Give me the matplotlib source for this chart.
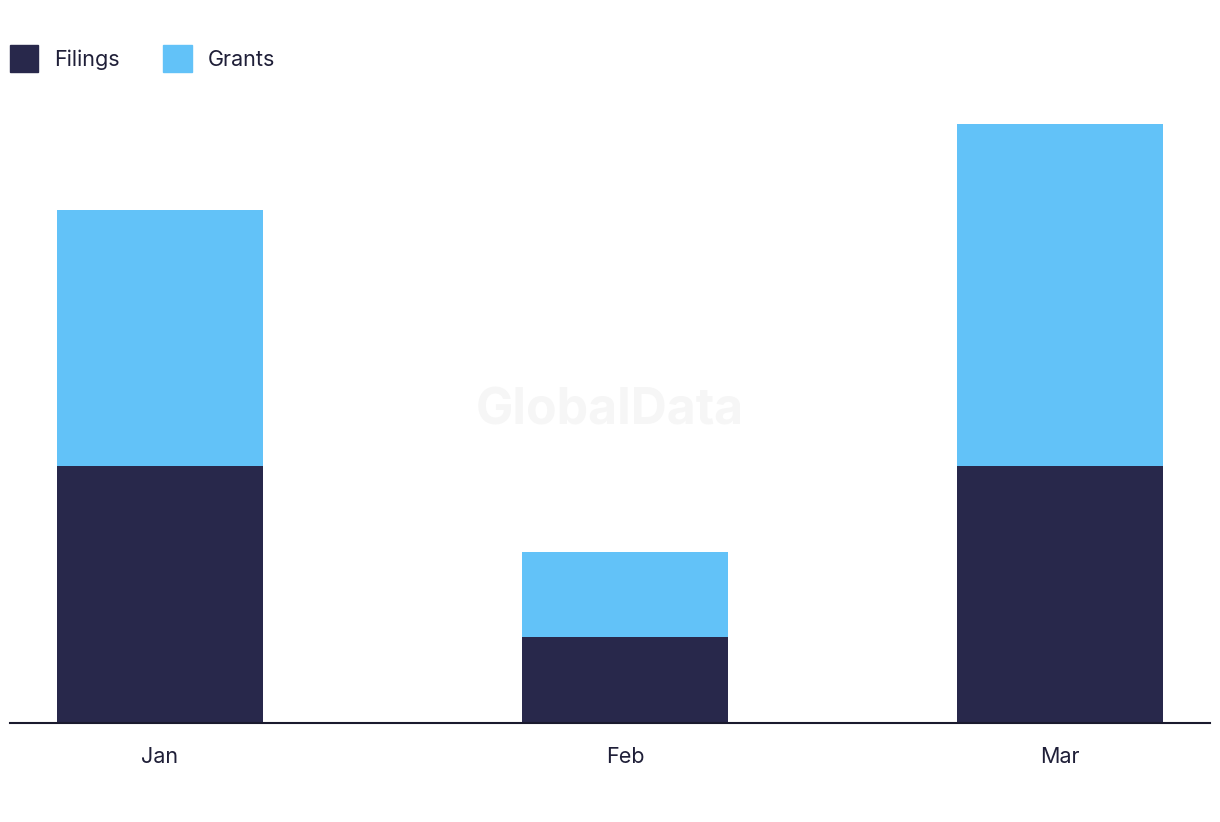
import matplotlib.pyplot as plt
from matplotlib.patches import Patch

months = ['Jan', 'Feb', 'Mar']
filings = [3, 1, 3]
grants = [3, 1, 4]

# layout: bar centres in pixel-like units
x_pos = [160, 625, 1060]

plt.rcParams['font.family'] = ['Inter', 'DejaVu Sans']

fig = plt.figure(figsize=(12.2, 8.22), dpi=100)
ax = fig.add_axes([10 / 1220, (822 - 723) / 822, 1200 / 1220, (723 - 124) / 822])

c_fil = '#28284b'
c_gr = '#62c2f8'
ax.bar(x_pos, filings, width=206, color=c_fil, zorder=2)
ax.bar(x_pos, grants, width=206, bottom=filings, color=c_gr, zorder=2)

ax.set_xlim(10, 1210)
ax.set_ylim(0, 7)
ax.set_xticks(x_pos)
ax.set_xticklabels(months, fontsize=15.5, color='#1f1f38')
ax.tick_params(axis='x', length=0, pad=17)
ax.set_yticks([])
for s in ['top', 'right', 'left']:
    ax.spines[s].set_visible(False)
ax.spines['bottom'].set_color('#1a1a2e')
ax.spines['bottom'].set_linewidth(1.5)
ax.spines['bottom'].set_zorder(3)

fig.text(0.5, 0.5, 'GlobalData', fontsize=36, fontweight='bold', color='#f6f6f6',
         ha='center', va='center', zorder=0)

handles = [Patch(color=c_fil, label='Filings'), Patch(color=c_gr, label='Grants')]
fig.legend(handles=handles, loc='upper left', bbox_to_anchor=(10 / 1220, 1 - 45 / 822), ncol=2,
           frameon=False, fontsize=15.5, handlelength=1.32, handleheight=1.55,
           borderpad=0, borderaxespad=0,
           columnspacing=2.0, handletextpad=0.75, labelcolor='#1f1f38')

fig.savefig('out.png', dpi=100)
